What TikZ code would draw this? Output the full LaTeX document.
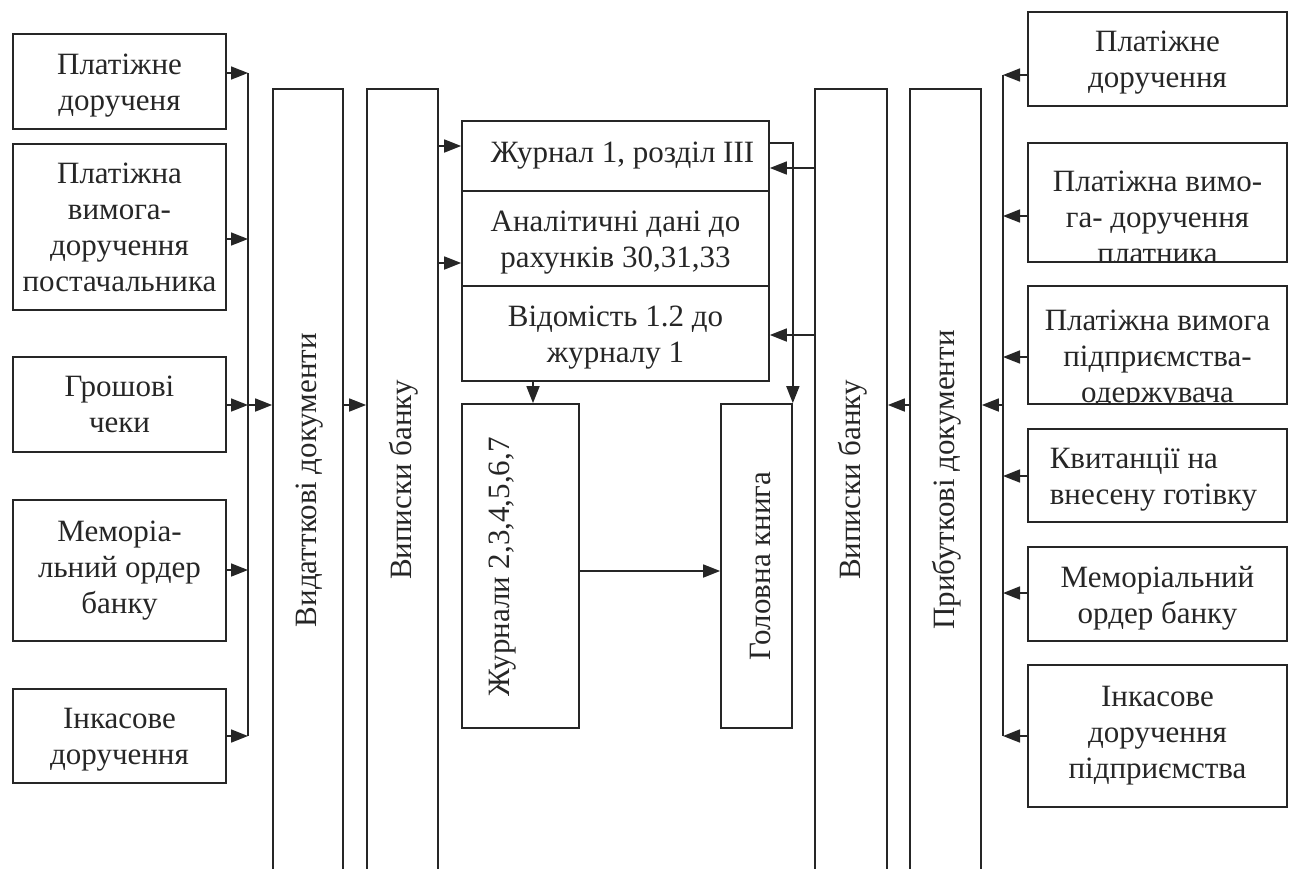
\documentclass[tikz,border=0pt]{standalone}
\usepackage{fontspec}
\setmainfont{Liberation Serif}
\usetikzlibrary{arrows.meta}
\definecolor{ink}{gray}{0.15}
\begin{document}
\begin{tikzpicture}[x=1pt,y=-1pt,
  bx/.style={draw=ink,line width=1.7pt,inner sep=0pt,align=center,text=ink,font=\fontsize{31}{36}\selectfont},
  tx/.style={inner sep=0pt,align=center,text=ink,font=\fontsize{31}{36}\selectfont},
  low/.style={yshift=-4pt},
  arr/.style={draw=ink,line width=1.7pt,-{Triangle[length=17pt,width=13pt]}},
  ln/.style={draw=ink,line width=1.7pt}]
\useasboundingbox (0,0) rectangle (1296,868);

% left document boxes
\node[bx,minimum width=213pt,minimum height=95pt] (L1) at (119.5,81.5) {};
\node[tx,low] (L1t) at (L1) {Платіжне\\дорученя};
\node[bx,minimum width=213pt,minimum height=166pt] (L2) at (119.5,227) {Платіжна\\вимога-\\доручення\\постачальника};
\node[bx,minimum width=213pt,minimum height=95pt] (L3) at (119.5,404.5) {Грошові\\чеки};
\node[bx,minimum width=213pt,minimum height=141pt] (L4) at (119.5,570.5) {Меморіа-\\льний ордер\\банку};
\node[bx,minimum width=213pt,minimum height=94pt] (L5) at (119.5,736) {};
\node[tx,low] (L5t) at (L5) {Інкасове\\доручення};

% tall boxes
\node[bx,minimum width=70pt,minimum height=782pt] (vyd) at (308,480) {};
\node[tx,rotate=90] (vydt) at (310,480) {Видатткові документи};
\node[bx,minimum width=71pt,minimum height=782pt] (vypL) at (402.5,480) {};
\node[tx,rotate=90] (vypLt) at (404,480) {Виписки банку};
\node[bx,minimum width=72pt,minimum height=782pt] (vypR) at (851,480) {};
\node[tx,rotate=90] (vypRt) at (853,480) {Виписки банку};
\node[bx,minimum width=71pt,minimum height=782pt] (prib) at (945.5,480) {};
\node[tx,rotate=90] (pribt) at (947,480) {Прибуткові документи};

% middle stack
\node[bx,minimum width=307pt,minimum height=70pt] (j1) at (615.5,156) {\hspace*{14pt}Журнал 1, розділ III};
\node[bx,minimum width=307pt,minimum height=95pt] (an) at (615.5,238.5) {};
\node[tx,low] (ant) at (an) {Аналітичні дані до\\рахунків 30,31,33};
\node[bx,minimum width=307pt,minimum height=95pt] (vid) at (615.5,333.5) {};
\node[tx,low] (vidt) at (vid) {Відомість 1.2 до\\журналу 1};

\node[bx,minimum width=117pt,minimum height=324pt] (jr) at (520.5,566) {};
\node[tx,rotate=90] (jrt) at (503,567) {Журнали 2,3,4,5,6,7};
\node[bx,minimum width=71pt,minimum height=324pt] (gk) at (756.5,566) {};
\node[tx,rotate=90] (gkt) at (760,566) {Головна книга};

% right document boxes
\node[bx,minimum width=259pt,minimum height=94pt] (R1) at (1157.5,59) {};
\node[tx,low] (R1t) at (R1) {Платіжне\\доручення};
\node[bx,minimum width=259pt,minimum height=119pt] (R2) at (1157.5,202.5) {};
\begin{scope}
\clip (R2.north west) rectangle (R2.south east);
\node[tx,anchor=north] (R2t) at (1157.5,171) {Платіжна вимо-\\га- доручення\\платника};
\end{scope}
\node[bx,minimum width=259pt,minimum height=118pt] (R3) at (1157.5,345) {};
\begin{scope}
\clip (R3.north west) rectangle (R3.south east);
\node[tx,anchor=north] (R3t) at (1157.5,310) {Платіжна вимога\\підприємства-\\одержувача};
\end{scope}
\node[bx,minimum width=259pt,minimum height=93pt] (R4) at (1157.5,475.5) {};
\node[tx,low,align=left,xshift=-4pt] (R4t) at (R4) {Квитанції на\\внесену готівку};
\node[bx,minimum width=259pt,minimum height=94pt] (R5) at (1157.5,594) {};
\node[tx,low] (R5t) at (R5) {Меморіальний\\ордер банку};
\node[bx,minimum width=259pt,minimum height=142pt] (R6) at (1157.5,736) {Інкасове\\доручення\\підприємства};

% left bus
\coordinate (lb1) at (248,73);
\coordinate (lb2) at (248,239);
\coordinate (lb3) at (248,405);
\coordinate (lb4) at (248,570);
\coordinate (lb5) at (248,736);
\draw[ln] (lb1) -- (lb5);
\foreach \b/\c in {L1/lb1,L2/lb2,L3/lb3,L4/lb4,L5/lb5}
  \draw[arr] (\b.east |- \c) -- (\c);
\draw[arr] (lb3) -- (vyd.west |- lb3);
\draw[arr] (vyd.east |- lb3) -- (vypL.west |- lb3);

% middle connections
\coordinate (m1) at (0,146);
\coordinate (m2) at (0,263);
\coordinate (m3) at (533,0);
\coordinate (m4) at (0,571);
\coordinate (m5) at (0,143);
\coordinate (m6) at (0,168);
\coordinate (m7) at (0,335);
\draw[arr] (vypL.east |- m1) -- (j1.west |- m1);
\draw[arr] (vypL.east |- m2) -- (an.west |- m2);
\draw[arr] (vid.south -| m3) -- (jr.north -| m3);
\draw[arr] (jr.east |- m4) -- (gk.west |- m4);
\draw[arr] (j1.east |- m5) -| (gk.north east);
\draw[arr] (vypR.west |- m6) -- (j1.east |- m6);
\draw[arr] (vypR.west |- m7) -- (vid.east |- m7);

% right bus
\coordinate (rb0) at (1003,405);
\coordinate (rb1) at (1003,75);
\coordinate (rb2) at (1003,216);
\coordinate (rb3) at (1003,357);
\coordinate (rb4) at (1003,476);
\coordinate (rb5) at (1003,593);
\coordinate (rb6) at (1003,736);
\draw[ln] (rb1) -- (rb6);
\foreach \b/\c in {R1/rb1,R2/rb2,R3/rb3,R4/rb4,R5/rb5,R6/rb6}
  \draw[arr] (\b.west |- \c) -- (\c);
\draw[arr] (rb0) -- (prib.east |- rb0);
\draw[arr] (prib.west |- rb0) -- (vypR.east |- rb0);
\end{tikzpicture}
\end{document}
